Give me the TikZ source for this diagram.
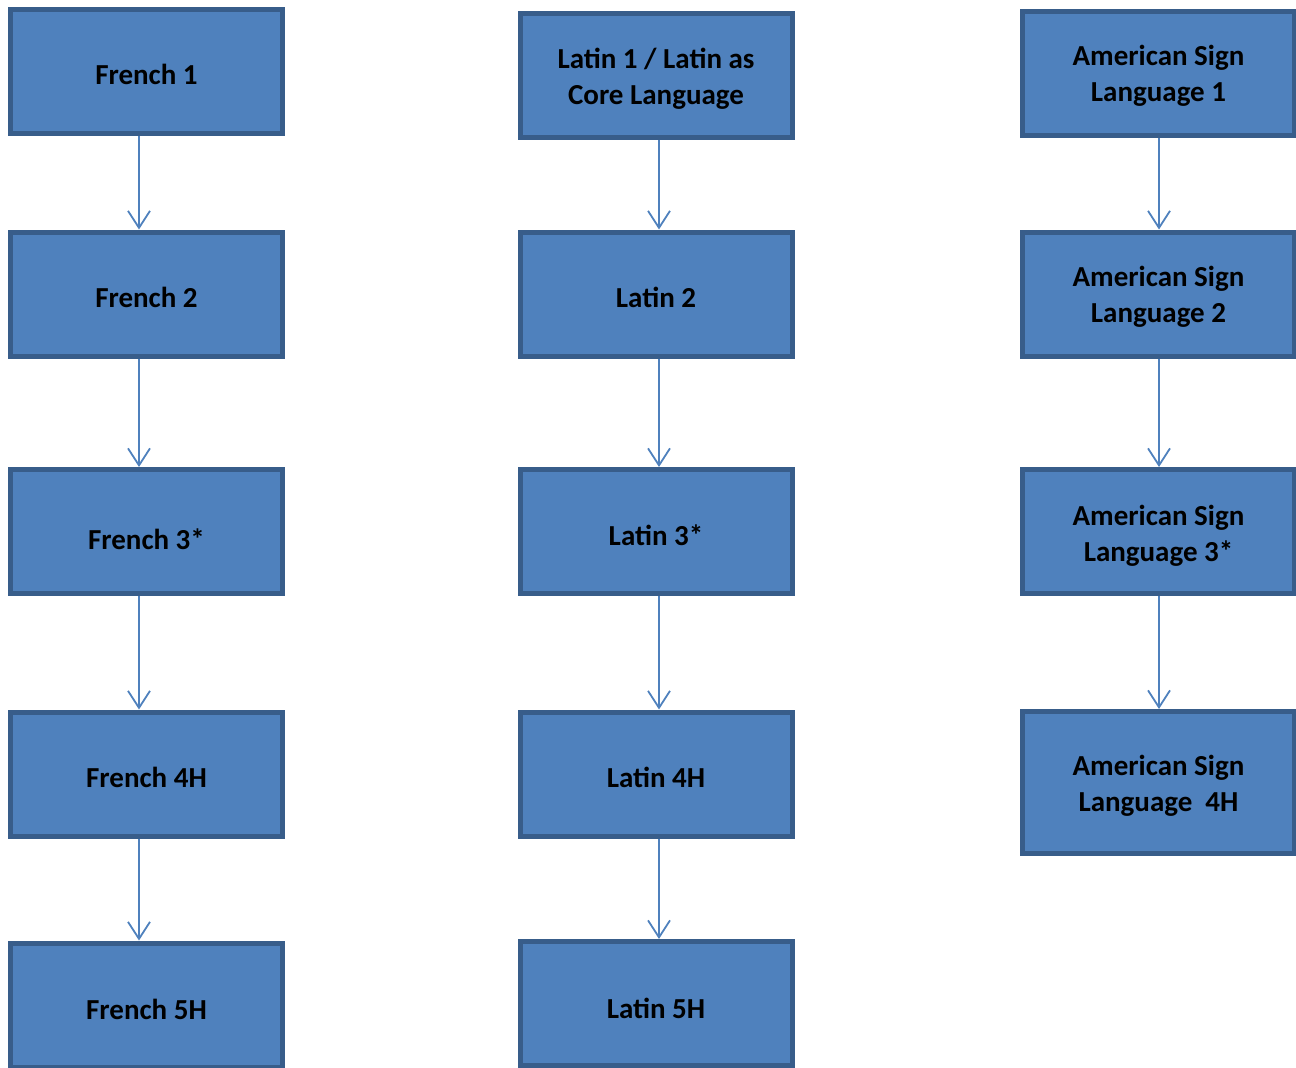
\documentclass[tikz,border=0pt]{standalone}
\usepackage{fontspec}
\setmainfont{Carlito}
\usetikzlibrary{arrows.meta}
\definecolor{boxfill}{HTML}{4F81BD}
\definecolor{boxline}{HTML}{385D8A}
\begin{document}
\begin{tikzpicture}[x=1pt,y=-1pt,
  box/.style={draw=boxline,fill=boxfill,line width=5pt,minimum width=272pt,minimum height=124pt,inner sep=0pt},
  lbl/.style={font=\fontsize{29}{36}\selectfont\bfseries,align=center,inner sep=0pt,text=black},
  arr/.style={draw=boxfill,line width=1.8pt,-{Straight Barb[length=17pt,width=22pt,line width=1.8pt]}}]
\useasboundingbox (0,0) rectangle (1296,1068);
% column 1
\node[box] (f1) at (146.5,71.5) {};
\node[box] (f2) at (146.5,294) {};
\node[box] (f3) at (146.5,531.5) {};
\node[box] (f4) at (146.5,774) {};
\node[box] (f5) at (146.5,1005) {};
% column 2
\node[box] (l1) at (656,75) {};
\node[box] (l2) at (656,294) {};
\node[box] (l3) at (656,531.5) {};
\node[box] (l4) at (656,774) {};
\node[box] (l5) at (656,1003.5) {};
% column 3
\node[box] (a1) at (1158.5,73) {};
\node[box] (a2) at (1158.5,294) {};
\node[box] (a3) at (1158.5,531.5) {};
\node[box,minimum height=142pt] (a4) at (1158.5,782.5) {};
% labels
\node[lbl] (f1t) at (146.5,74.5) {French 1};
\node[lbl] (f2t) at (146.5,297) {French 2};
\node[lbl] (f3t) at (146.5,539) {French 3*};
\node[lbl] (f4t) at (146.5,777) {French 4H};
\node[lbl] (f5t) at (146.5,1009) {French 5H};
\node[lbl] (l1t) at (656,79.25) {Latin 1 / Latin as\\Core Language};
\node[lbl] (l2t) at (656,297) {Latin 2};
\node[lbl] (l3t) at (656,535) {Latin 3*};
\node[lbl] (l4t) at (656,777) {Latin 4H};
\node[lbl] (l5t) at (656,1008) {Latin 5H};
\node[lbl] (a1t) at (1158.5,76.25) {American Sign\\Language 1};
\node[lbl] (a2t) at (1158.5,296.75) {American Sign\\Language 2};
\node[lbl] (a3t) at (1158.5,535.75) {American Sign\\Language 3*};
\node[lbl] (a4t) at (1158.5,785.75) {American Sign\\Language\ \ 4H};
% arrow columns
\coordinate (c1) at (139,0);
\coordinate (c2) at (659,0);
\coordinate (c3) at (1159,0);
\draw[arr] (f1.south -| c1) -- (f2.north -| c1);
\draw[arr] (f2.south -| c1) -- (f3.north -| c1);
\draw[arr] (f3.south -| c1) -- (f4.north -| c1);
\draw[arr] (f4.south -| c1) -- (f5.north -| c1);
\draw[arr] (l1.south -| c2) -- (l2.north -| c2);
\draw[arr] (l2.south -| c2) -- (l3.north -| c2);
\draw[arr] (l3.south -| c2) -- (l4.north -| c2);
\draw[arr] (l4.south -| c2) -- (l5.north -| c2);
\draw[arr] (a1.south -| c3) -- (a2.north -| c3);
\draw[arr] (a2.south -| c3) -- (a3.north -| c3);
\draw[arr] (a3.south -| c3) -- (a4.north -| c3);
\end{tikzpicture}
\end{document}
